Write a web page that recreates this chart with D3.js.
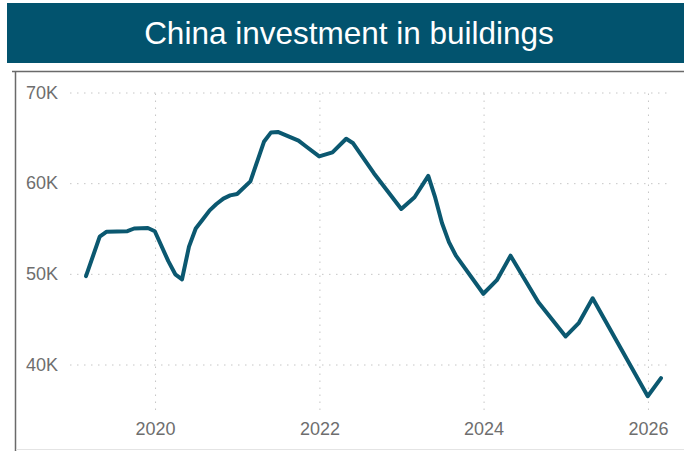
<!DOCTYPE html>
<html>
<head>
<meta charset="utf-8">
<script src="https://cdn.jsdelivr.net/npm/d3@7"></script>
<style>
  html, body { margin: 0; padding: 0; background: #fff; }
  svg { display: block; font-family: "Liberation Sans", Arial, sans-serif; }
</style>
</head>
<body>
<svg id="chart" width="684" height="451"></svg>
<script>
// Monthly periods (Jan is reported together with Feb), value at month end
const periods = [
  "2019-02","2019-04","2019-05","2019-08","2019-09","2019-11","2019-12",
  "2020-02","2020-03","2020-04","2020-05","2020-06","2020-07","2020-08","2020-09","2020-10","2020-11","2020-12",
  "2021-02","2021-04","2021-05","2021-06","2021-09","2021-10","2021-12",
  "2022-02","2022-04","2022-05","2022-08","2022-12",
  "2023-02","2023-04","2023-05","2023-06","2023-07","2023-08","2023-12",
  "2024-02","2024-04","2024-08","2024-12",
  "2025-02","2025-04","2025-12",
  "2026-02"
];
const investment = [
  49750, 54100, 54650, 54700, 55000, 55050, 54700,
  51400, 49950, 49400, 53000, 55000, 56000, 57000, 57700, 58300, 58650, 58800,
  60200, 64600, 65600, 65650, 64700, 64100, 62950,
  63400, 64900, 64400, 61100, 57150,
  58450, 60800, 58400, 55600, 53500, 52000, 47800,
  49300, 52000, 46900, 43100,
  44600, 47300, 36500,
  38500
];
const yTickValues = [40000, 50000, 60000, 70000];
const titleText = "China investment in buildings";

const parseMonth = d3.timeParse("%Y-%m");
const monthEnd = s => d3.timeDay.offset(d3.timeMonth.offset(parseMonth(s), 1), -1);
const data = periods.map((p, i) => ({ date: monthEnd(p), value: investment[i] }));

const svg = d3.select("#chart");

// Title banner
svg.append("rect")
  .attr("x", 7).attr("y", 3).attr("width", 684 - 7).attr("height", 60)
  .attr("fill", "#02536e");
svg.append("text")
  .attr("x", 349).attr("y", 33)
  .attr("text-anchor", "middle").attr("dominant-baseline", "central")
  .attr("fill", "#ffffff").attr("font-size", 31.5)
  .text(titleText);

// Visual frame
svg.append("line").attr("x1", 12).attr("x2", 684).attr("y1", 71.5).attr("y2", 71.5)
  .attr("stroke", "#6a6a6a").attr("stroke-width", 1.5);
svg.append("line").attr("x1", 15.5).attr("x2", 15.5).attr("y1", 71).attr("y2", 451)
  .attr("stroke", "#6a6a6a").attr("stroke-width", 1.5);
svg.append("line").attr("x1", 16).attr("x2", 684).attr("y1", 449.5).attr("y2", 449.5)
  .attr("stroke", "#e4e4e4").attr("stroke-width", 1);

// Scales
const plotLeft = 70, plotRight = 670, plotTop = 92.5, plotBottom = 410;
const x = d3.scaleTime()
  .domain(d3.extent(data, d => d.date))
  .range([86, 661]);
const y = d3.scaleLinear()
  .domain([40000, 70000])
  .range([364.5, 92.5]);

// Y axis with dotted gridlines
const yAxis = svg.append("g")
  .attr("transform", `translate(${plotLeft},0)`)
  .call(d3.axisLeft(y)
    .tickValues(yTickValues)
    .tickFormat(d => d / 1000 + "K")
    .tickSize(-(plotRight - plotLeft))
    .tickPadding(12));
yAxis.select(".domain").remove();
yAxis.selectAll(".tick line")
  .attr("stroke", "#c6c6c6").attr("stroke-dasharray", "1.5,5.5");
yAxis.selectAll(".tick text")
  .attr("fill", "#6e6e6e").attr("font-size", 18)
  .attr("font-family", "Liberation Sans, Arial, sans-serif");

// X axis with dotted gridlines
const xAxis = svg.append("g")
  .attr("transform", `translate(0,${plotBottom})`)
  .call(d3.axisBottom(x)
    .ticks(d3.timeYear.every(2))
    .tickFormat(d3.timeFormat("%Y"))
    .tickSize(-(plotBottom - plotTop))
    .tickPadding(12));
xAxis.select(".domain").remove();
xAxis.selectAll(".tick line")
  .attr("stroke", "#c6c6c6").attr("stroke-dasharray", "1.5,5.5");
xAxis.selectAll(".tick text")
  .attr("fill", "#6e6e6e").attr("font-size", 18)
  .attr("font-family", "Liberation Sans, Arial, sans-serif");

// Series line
const line = d3.line()
  .x(d => x(d.date))
  .y(d => y(d.value));
svg.append("path")
  .datum(data)
  .attr("fill", "none")
  .attr("stroke", "#0b5870")
  .attr("stroke-width", 4)
  .attr("stroke-linejoin", "round")
  .attr("stroke-linecap", "round")
  .attr("d", line);
</script>
</body>
</html>
